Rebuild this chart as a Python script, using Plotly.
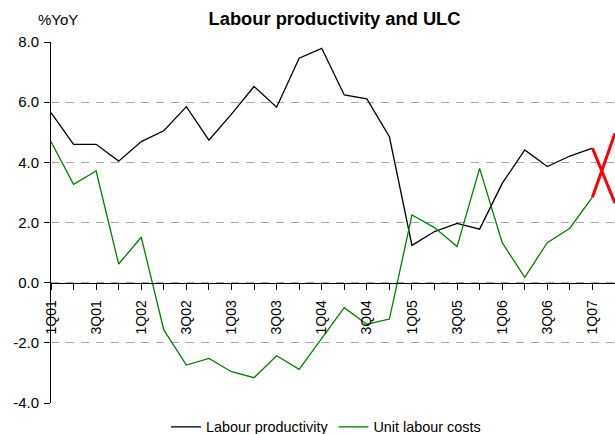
import plotly.graph_objects as go

quarters = ["1Q01", "2Q01", "3Q01", "4Q01", "1Q02", "2Q02", "3Q02", "4Q02",
            "1Q03", "2Q03", "3Q03", "4Q03", "1Q04", "2Q04", "3Q04", "4Q04",
            "1Q05", "2Q05", "3Q05", "4Q05", "1Q06", "2Q06", "3Q06", "4Q06",
            "1Q07", "2Q07"]
tick_labels = [q if q[0] in "13" else "" for q in quarters]

labour_productivity = [5.65, 4.60, 4.60, 4.04, 4.69, 5.05, 5.85, 4.74,
                       5.60, 6.52, 5.83, 7.46, 7.79, 6.24, 6.11, 4.85,
                       1.24, 1.70, 1.97, 1.78, 3.30, 4.41, 3.86, 4.21,
                       4.47, 2.64]
unit_labour_costs = [4.69, 3.27, 3.71, 0.62, 1.51, -1.57, -2.74, -2.52,
                     -2.96, -3.16, -2.43, -2.88, -1.85, -0.83, -1.38, -1.21,
                     2.25, 1.83, 1.20, 3.80, 1.33, 0.18, 1.33, 1.81,
                     2.84, 4.97]

y_ticks = [-4, -2, 0, 2, 4, 6, 8]
y_tick_text = ["-4.0", "-2.0", "0.0", "2.0", "4.0", "6.0", "8.0"]

FONT = "Liberation Sans, Arial, sans-serif"
n_actual = 25  # points up to 1Q07 drawn in series colour; last segment in red

fig = go.Figure()
fig.add_trace(go.Scatter(x=quarters[:n_actual], y=labour_productivity[:n_actual],
                         mode="lines", name="Labour productivity",
                         line=dict(color="#000000", width=1.3)))
fig.add_trace(go.Scatter(x=quarters[:n_actual], y=unit_labour_costs[:n_actual],
                         mode="lines", name="Unit labour costs",
                         line=dict(color="#008000", width=1.3)))
fig.add_trace(go.Scatter(x=quarters[n_actual - 1:], y=labour_productivity[n_actual - 1:],
                         mode="lines", showlegend=False,
                         line=dict(color="#ff0000", width=3)))
fig.add_trace(go.Scatter(x=quarters[n_actual - 1:], y=unit_labour_costs[n_actual - 1:],
                         mode="lines", showlegend=False,
                         line=dict(color="#ff0000", width=3)))

fig.update_layout(
    width=615, height=434,
    margin=dict(l=51, r=0, t=42, b=31, pad=0, autoexpand=False),
    plot_bgcolor="white", paper_bgcolor="white",
    font=dict(family=FONT, color="#000000", size=14),
    title=dict(text="<b>Labour productivity and ULC</b>", x=0.544, xref="container",
               xanchor="center", y=1 - 19 / 434, yref="container", yanchor="middle",
               font=dict(size=18.3, family=FONT)),
    showlegend=True,
    legend=dict(orientation="h", x=326 / 615, xref="container", xanchor="center",
                y=1 - 427 / 434, yref="container", yanchor="middle",
                font=dict(size=14.4, family=FONT), itemwidth=30,
                bgcolor="rgba(0,0,0,0)", tracegroupgap=0),
    xaxis=dict(type="category", categoryorder="array", categoryarray=quarters,
               range=[0, len(quarters) - 1], anchor="free", position=4 / 12,
               tickmode="array", tickvals=quarters, ticktext=tick_labels,
               tickangle=-90, ticks="outside", ticklen=6, tickcolor="#000000",
               tickfont=dict(size=14, family=FONT), ticklabelstandoff=5,
               showline=True, linecolor="#000000", linewidth=1,
               showgrid=False, zeroline=False),
    yaxis=dict(range=[-4, 8], tickmode="array", tickvals=y_ticks, ticktext=y_tick_text,
               ticks="outside", ticklen=6, tickcolor="#000000",
               tickfont=dict(size=15, family=FONT), ticklabelstandoff=2,
               showline=True, linecolor="#000000", linewidth=1,
               showgrid=True, gridcolor="#a6a6a6", gridwidth=1, griddash="8px,7px",
               zeroline=False),
)
# plot area: x 51..615 (564 px), y 42..403 (361 px)
fig.add_annotation(text="%YoY", x=(58 - 51) / 564, y=1 + (42 - 20) / 361,
                   xref="paper", yref="paper", xanchor="center", yanchor="middle",
                   showarrow=False, font=dict(size=15, family=FONT))

fig.write_html("out.html")
